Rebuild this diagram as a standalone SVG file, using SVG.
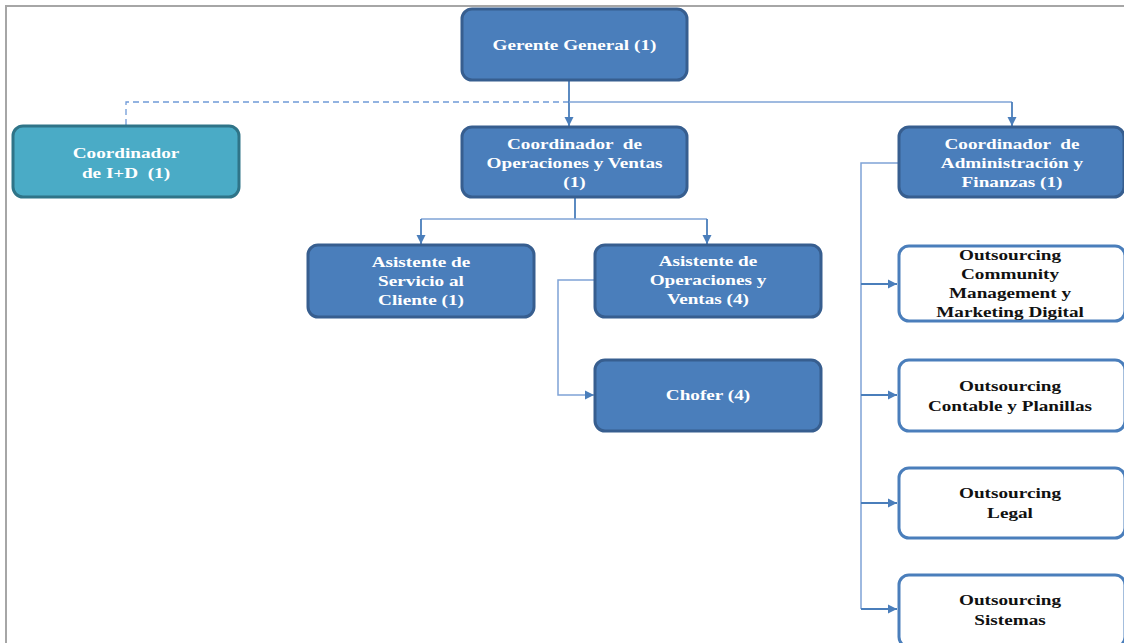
<svg xmlns="http://www.w3.org/2000/svg" width="1124" height="643" viewBox="0 0 1124 643" xml:space="preserve">
<style>
.blue{fill:#4a7ebb;stroke:#375e8f;stroke-width:3}
.teal{fill:#4aabc6;stroke:#2f7488;stroke-width:3}
.white{fill:#ffffff;stroke:#4a7ebb;stroke-width:3}
.t{font-family:"Liberation Serif","Times New Roman",serif;font-weight:bold;font-size:15px;text-anchor:middle;white-space:pre}
.tw{fill:#ffffff}
.tb{fill:#111111}
.c{fill:none;stroke:#4a7ebb;stroke-width:1.8}
.cl{fill:none;stroke:#7fa3d6;stroke-width:1.5}
.d{fill:none;stroke:#6f9ad8;stroke-width:1.3;stroke-dasharray:6 4}
</style>
<defs>
<marker id="ah" markerWidth="10" markerHeight="10" refX="9" refY="5" orient="auto" markerUnits="userSpaceOnUse">
<path d="M0,0.5 L9,5 L0,9.5 Z" fill="#4a7ebb"/>
</marker>
</defs>
<rect x="0" y="0" width="1124" height="643" fill="#ffffff"/>
<path d="M6,643 L6,6 L1124,6" fill="none" stroke="#a6a6a6" stroke-width="2"/>
<g id="connectors">
<path class="d" d="M569,102 L126,102 L126,126"/>
<path class="c" d="M569,80 L569,126" marker-end="url(#ah)"/>
<path class="cl" d="M569,102 L1012,102"/>
<path class="c" d="M1012,102 L1012,126" marker-end="url(#ah)"/>
<path class="c" d="M575,197 L575,219"/>
<path class="cl" d="M421,219 L707,219"/>
<path class="c" d="M421,219 L421,244" marker-end="url(#ah)"/>
<path class="c" d="M707,219 L707,244" marker-end="url(#ah)"/>
<path class="cl" d="M595,280 L558,280 L558,395 L594,395" marker-end="url(#ah)"/>
<path class="cl" d="M898,163 L861,163 L861,609"/>
<path class="c" d="M861,284 L897,284" marker-end="url(#ah)"/>
<path class="c" d="M861,395 L897,395" marker-end="url(#ah)"/>
<path class="c" d="M861,503 L897,503" marker-end="url(#ah)"/>
<path class="c" d="M861,609 L897,609" marker-end="url(#ah)"/>
</g>
<g id="gerente">
<rect class="blue" x="462" y="9" width="225" height="71" rx="10"/>
<text class="t tw" transform="matrix(1.28 0 0 1 574.5 0)"><tspan x="0" y="50">Gerente General (1)</tspan></text>
</g>
<g id="coord-id">
<rect class="teal" x="13" y="126" width="226" height="71" rx="10"/>
<text class="t tw" transform="matrix(1.28 0 0 1 126 0)"><tspan x="0" y="158">Coordinador</tspan><tspan x="0" y="178">de I+D  (1)</tspan></text>
</g>
<g id="coord-ops">
<rect class="blue" x="462" y="127" width="225" height="70" rx="10"/>
<text class="t tw" transform="matrix(1.28 0 0 1 574.5 0)"><tspan x="0" y="149">Coordinador  de</tspan><tspan x="0" y="168">Operaciones y Ventas</tspan><tspan x="0" y="187">(1)</tspan></text>
</g>
<g id="coord-admin">
<rect class="blue" x="899" y="127" width="225" height="70" rx="10"/>
<text class="t tw" transform="matrix(1.28 0 0 1 1012 0)"><tspan x="0" y="149">Coordinador  de</tspan><tspan x="0" y="168">Administración y</tspan><tspan x="0" y="187">Finanzas (1)</tspan></text>
</g>
<g id="asist-servicio">
<rect class="blue" x="308" y="245" width="226" height="72" rx="10"/>
<text class="t tw" transform="matrix(1.28 0 0 1 421 0)"><tspan x="0" y="267">Asistente de</tspan><tspan x="0" y="286">Servicio al</tspan><tspan x="0" y="305">Cliente (1)</tspan></text>
</g>
<g id="asist-ops">
<rect class="blue" x="595" y="245" width="226" height="72" rx="10"/>
<text class="t tw" transform="matrix(1.28 0 0 1 708 0)"><tspan x="0" y="266">Asistente de</tspan><tspan x="0" y="285">Operaciones y</tspan><tspan x="0" y="304">Ventas (4)</tspan></text>
</g>
<g id="chofer">
<rect class="blue" x="595" y="360" width="226" height="71" rx="10"/>
<text class="t tw" transform="matrix(1.28 0 0 1 708 0)"><tspan x="0" y="400">Chofer (4)</tspan></text>
</g>
<g id="out-community">
<rect class="white" x="899" y="246" width="226" height="75" rx="10"/>
<text class="t tb" transform="matrix(1.28 0 0 1 1010 0)"><tspan x="0" y="260">Outsourcing</tspan><tspan x="0" y="279">Community</tspan><tspan x="0" y="298">Management y</tspan><tspan x="0" y="317">Marketing Digital</tspan></text>
</g>
<g id="out-contable">
<rect class="white" x="899" y="360" width="226" height="71" rx="10"/>
<text class="t tb" transform="matrix(1.28 0 0 1 1010 0)"><tspan x="0" y="391">Outsourcing</tspan><tspan x="0" y="411">Contable y Planillas</tspan></text>
</g>
<g id="out-legal">
<rect class="white" x="899" y="468" width="226" height="70" rx="10"/>
<text class="t tb" transform="matrix(1.28 0 0 1 1010 0)"><tspan x="0" y="498">Outsourcing</tspan><tspan x="0" y="518">Legal</tspan></text>
</g>
<g id="out-sistemas">
<rect class="white" x="899" y="575" width="226" height="72" rx="10"/>
<text class="t tb" transform="matrix(1.28 0 0 1 1010 0)"><tspan x="0" y="605">Outsourcing</tspan><tspan x="0" y="625">Sistemas</tspan></text>
</g>
</svg>
